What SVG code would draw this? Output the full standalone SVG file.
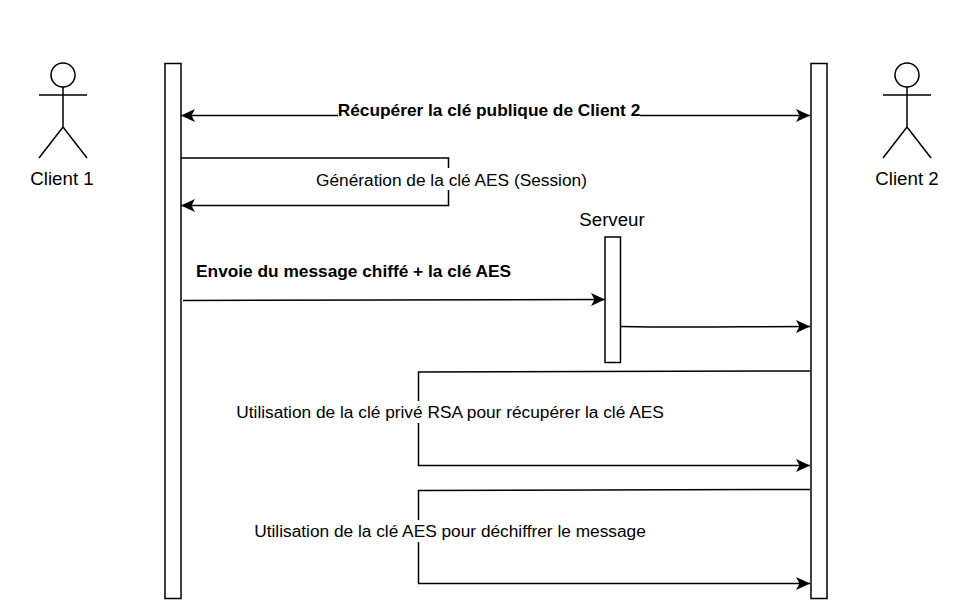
<svg xmlns="http://www.w3.org/2000/svg" width="979" height="610" viewBox="0 0 979 610">
<style>
.s{fill:none;stroke:#000;stroke-width:1.5}
.b{fill:#fff;stroke:#000;stroke-width:1.5}
text{font-family:"Liberation Sans",Arial,sans-serif;fill:#000}
.m{font-size:18.7px;text-anchor:middle}
.l{font-size:17.3px;text-anchor:middle}
.lb{font-size:17.3px;text-anchor:middle;font-weight:bold}
.bg{fill:#fff;stroke:none}
</style>
<defs>
<marker id="a" markerUnits="userSpaceOnUse" markerWidth="14" markerHeight="13" refX="14" refY="6.500" orient="auto-start-reverse"><path d="M0 0L14 6.500L0 13L3.500 6.500Z" fill="#000"/></marker>
</defs>
<rect width="979" height="610" fill="#fff"/>
<g id="connectors">
<path class="s" d="M181 115.500H810" marker-start="url(#a)" marker-end="url(#a)"/>
<rect class="bg" x="338" y="100" width="302" height="20"/>
<path class="s" d="M181 158H448.500V205.500H181" marker-end="url(#a)"/>
<rect class="bg" x="316" y="168" width="271" height="22"/>
<path class="s" d="M183 300.500L605 299.500" marker-end="url(#a)"/>
<path class="s" d="M620.500 326.500C690 328 740 326.500 810 326.500" marker-end="url(#a)"/>
<path class="s" d="M810 371L418.500 372V465.500H810" marker-end="url(#a)"/>
<rect class="bg" x="236" y="401" width="428" height="22"/>
<path class="s" d="M810 489.500L418.500 490.500V583.500H810" marker-end="url(#a)"/>
<rect class="bg" x="254" y="520" width="392" height="22"/>
</g>
<g id="client1">
<circle class="b" cx="63" cy="75" r="12"/>
<path class="s" d="M63 87V127M39 95H87M39 158L63 127L87 158"/>
<text class="m" x="62" y="184.500">Client 1</text>
</g>
<g id="client2">
<circle class="b" cx="907" cy="75" r="12"/>
<path class="s" d="M907 87V127M883 95H931M883 158L907 127L931 158"/>
<text class="m" x="907" y="184.500">Client 2</text>
</g>
<g id="lifeline1"><rect class="b" x="165" y="63.500" width="16" height="535"/></g>
<g id="lifeline2"><rect class="b" x="811" y="63.500" width="16" height="535"/></g>
<g id="serveur">
<rect class="b" x="605" y="237" width="15.500" height="125.500"/>
<text class="m" x="612" y="225.500">Serveur</text>
</g>
<g id="labels">
<text class="lb" x="489" y="116">Récupérer la clé publique de Client 2</text>
<text class="l" x="451.500" y="186">Génération de la clé AES (Session)</text>
<text class="lb" x="353.500" y="277">Envoie du message chiffé + la clé AES</text>
<text class="l" x="450" y="418">Utilisation de la clé privé RSA pour récupérer la clé AES</text>
<text class="l" x="450" y="537">Utilisation de la clé AES pour déchiffrer le message</text>
</g>
</svg>
